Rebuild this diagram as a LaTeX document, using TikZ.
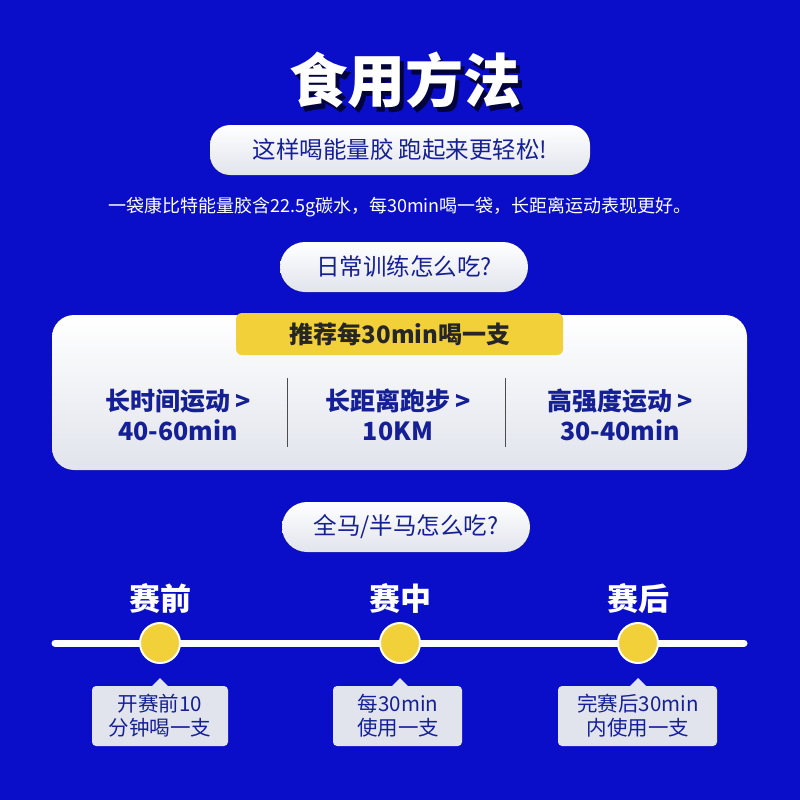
\documentclass[tikz,border=0pt]{standalone}
\usepackage{fontspec}
\setmainfont{Noto Sans CJK SC}
\definecolor{bg}{RGB}{10,14,200}
\definecolor{dk}{RGB}{22,32,150}
\definecolor{yl}{RGB}{242,208,58}
\definecolor{lg}{RGB}{225,228,236}
\tikzset{
 pill/.style={rounded corners=25pt,top color=white,bottom color=lg,draw=none},
 pilltxt/.style={text=dk,font=\fontsize{23.5}{28}\selectfont},
 col/.style={text=dk,font=\bfseries\fontsize{25}{30}\selectfont,align=center},
 stage/.style={text=white,font=\bfseries\fontsize{31}{34}\selectfont},
 dot/.style={circle,fill=yl,draw=white,line width=2pt,minimum size=40pt,inner sep=0pt},
 note/.style={fill=lg,rounded corners=4pt,text=dk,font=\fontsize{20.5}{24}\selectfont,align=center,inner sep=0pt},
}
\begin{document}
\begin{tikzpicture}[x=1pt,y=-1pt]
\fill[bg] (0,0) rectangle (800,800);
\useasboundingbox (0,0) rectangle (800,800);
\node[text=black!70!bg,font=\bfseries\fontsize{58}{62}\selectfont] at (409,85) {食用方法};
\node (title) [text=white,font=\bfseries\fontsize{58}{62}\selectfont] at (405,80) {食用方法};
\fill[pill,rounded corners=20pt] (210,125) rectangle (590,175);
\node (p1) [pilltxt] at (400,150) {这样喝能量胶 跑起来更轻松!};
\node (sub) [text=white,font=\fontsize{18}{22}\selectfont] at (400,207) {一袋康比特能量胶含22.5g碳水，每30min喝一袋，长距离运动表现更好。};
\fill[pill] (280,242) rectangle (528,292);
\node (p2) [pilltxt] at (404,267) {日常训练怎么吃?};
\fill[rounded corners=22pt,top color=white,bottom color=lg] (52,315) rectangle (747,470);
\fill[yl,rounded corners=6pt] (236,313) rectangle (563,355);
\node (tab) [text=black!85,font=\bfseries\fontsize{24}{28}\selectfont] at (400,334) {推荐每30min喝一支};
\node (c1) [col] at (178,415) {长时间运动 >\\40-60min};
\node (c2) [col] at (398,415) {长距离跑步 >\\10KM};
\node (c3) [col] at (620,415) {高强度运动 >\\30-40min};
\draw[black!70,line width=1pt] (287,378) -- (287,447) (505,378) -- (505,447);
\fill[pill] (282,502) rectangle (530,552);
\node (p3) [pilltxt] at (406,527) {全马/半马怎么吃?};
\node (s1) [stage] at (160,598) {赛前};
\node (s2) [stage] at (400,598) {赛中};
\node (s3) [stage] at (638,598) {赛后};
\draw[white,line width=7pt,line cap=round] (55,643) -- (744,643);
\node (d1) [dot] at (160,643) {};
\node (d2) [dot] at (400,643) {};
\node (d3) [dot] at (638,643) {};
\foreach \a/\b/\c in {92/228/160,333/462/400,558/717/638}{
 \fill[lg] (\c-8,686) -- (\c,678) -- (\c+8,686) -- cycle;
 \fill[lg,rounded corners=4pt] (\a,686) rectangle (\b,746);}
\node (n1) [note] at (160,716) {开赛前10\\分钟喝一支};
\node (n2) [note] at (398,716) {每30min\\使用一支};
\node (n3) [note] at (638,716) {完赛后30min\\内使用一支};
\end{tikzpicture}
\end{document}
